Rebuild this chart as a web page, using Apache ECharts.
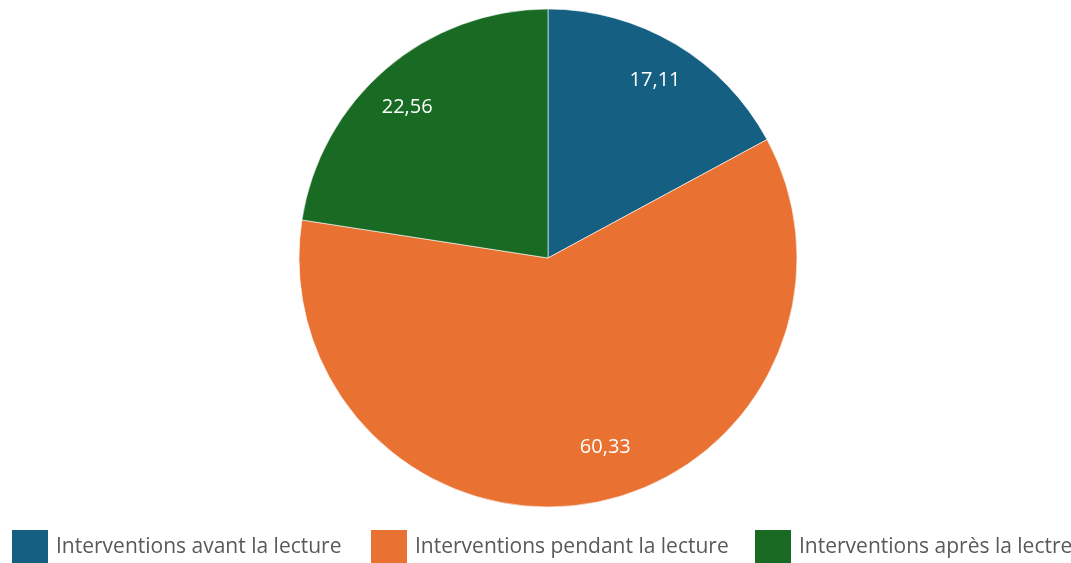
<!DOCTYPE html>
<html>
<head>
<meta charset="utf-8">
<script src="https://cdn.jsdelivr.net/npm/echarts@6/dist/echarts.min.js"></script>
<style>
  html, body { margin: 0; padding: 0; background: #ffffff; }
  #chart { width: 1071px; height: 563px; }
</style>
</head>
<body>
<div id="chart"></div>
<script>
// Share of interventions by reading phase
const categories = [
  'Interventions avant la lecture',
  'Interventions pendant la lecture',
  'Interventions après la lectre'
];
const values = [17.11, 60.33, 22.56];
const colors = ['#156082', '#E97132', '#196B24'];

const fmt = v => v.toFixed(2).replace('.', ',');
const pieData = categories.map((name, i) => ({
  name, value: values[i], itemStyle: { color: colors[i] }
}));

const center = [548, 258];
const R = 249;
const legendLefts = [10, 369, 753];
// small nudges of the value labels away from the slice bisector
const labelNudge = [[1, 0], [22, -15], [-6, 7]];

const chart = echarts.init(document.getElementById('chart'), null, { renderer: 'canvas' });
chart.setOption({
  animation: false,
  backgroundColor: '#ffffff',
  legend: categories.map((name, i) => ({
    data: [name],
    left: legendLefts[i],
    top: 528,
    padding: 0,
    itemWidth: 38,
    itemHeight: 36,
    itemGap: 0,
    icon: 'rect',
    textStyle: { color: '#595959', fontSize: 21, fontFamily: 'Open Sans', padding: [0, 0, 0, 2] },
    selectedMode: false
  })),
  series: [
    {
      type: 'pie',
      center: center,
      radius: [0, R],
      startAngle: 90,
      clockwise: true,
      data: pieData,
      itemStyle: { borderColor: '#ffffff', borderWidth: 0.6 },
      label: { show: false },
      labelLine: { show: false },
      emphasis: { disabled: true }
    },
    {
      // transparent ring used only to place the value labels near the rim
      type: 'pie',
      center: center,
      radius: [R * 0.64, R],
      startAngle: 90,
      clockwise: true,
      silent: true,
      data: categories.map((name, i) => ({ name, value: values[i] })),
      itemStyle: { color: 'rgba(0,0,0,0)' },
      label: {
        show: true,
        position: 'inside',
        color: '#ffffff',
        fontSize: 20,
        fontFamily: 'Open Sans',
        formatter: p => fmt(p.value)
      },
      labelLayout: p => ({ dx: labelNudge[p.dataIndex][0], dy: labelNudge[p.dataIndex][1] }),
      labelLine: { show: false },
      emphasis: { disabled: true }
    }
  ]
});
</script>
</body>
</html>
